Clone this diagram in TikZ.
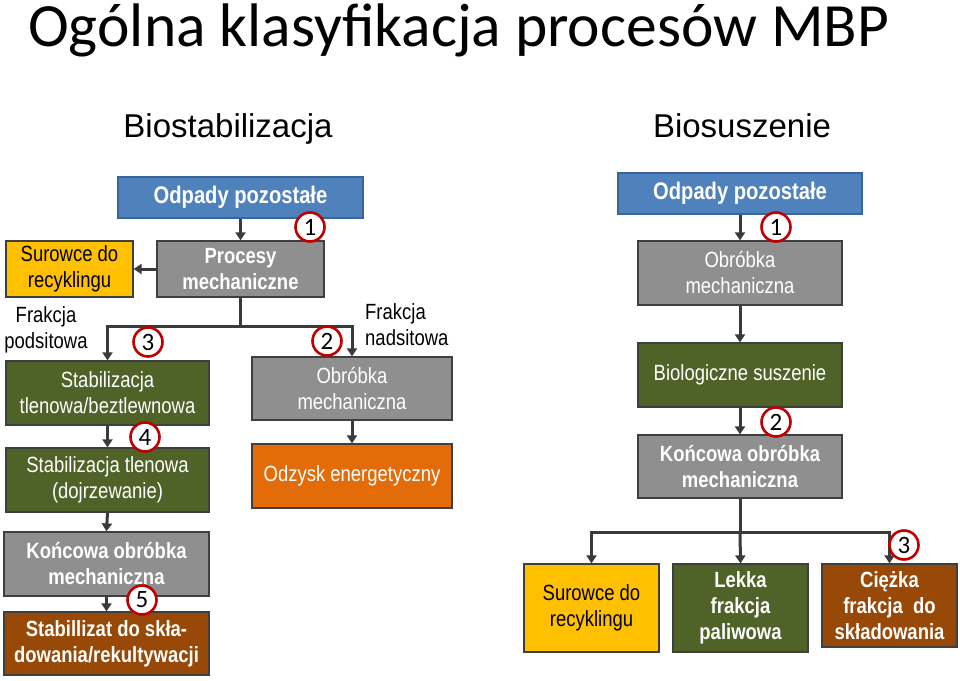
\documentclass[tikz,border=0pt]{standalone}
\usepackage{fontspec}
\setmainfont{Liberation Sans}
\newfontfamily\nar[FakeStretch=0.84]{Liberation Sans}
\newfontfamily\calfont{Carlito}
\usetikzlibrary{arrows.meta}
\definecolor{cblue}{HTML}{4F81BD}
\definecolor{cblueb}{HTML}{3A659A}
\definecolor{cgray}{HTML}{8F8F8F}
\definecolor{cgreen}{HTML}{4F6228}
\definecolor{corange}{HTML}{E36C09}
\definecolor{cbrown}{HTML}{984807}
\definecolor{cyellow}{HTML}{FFC000}
\definecolor{cborder}{HTML}{3F3F3F}
\definecolor{cline}{HTML}{3A3A3A}
\definecolor{cred}{HTML}{C00000}
\begin{document}
\begin{tikzpicture}[x=1pt,y=-1pt,
  box/.style={draw=cborder, line width=1.2pt, inner sep=2pt, align=center, text=white,
    font=\nar\fontsize{22}{26}\selectfont},
  bbox/.style={box, font=\nar\bfseries\fontsize{22}{26}\selectfont},
  sz/.style 2 args={minimum width=#1pt, minimum height=#2pt},
  gray/.style={fill=cgray},
  green/.style={fill=cgreen},
  orangebox/.style={fill=corange},
  brown/.style={fill=cbrown},
  yellow/.style={fill=cyellow, text=black},
  bluebox/.style={bbox, fill=cblue, draw=cblueb, font=\nar\bfseries\fontsize{24}{28}\selectfont},
  link/.style={draw=cline, line width=3pt},
  arr/.style={link, -{Triangle[width=10pt,length=8pt]}},
  num/.style={circle, draw=cred, line width=2.6pt, fill=white, minimum size=29pt, inner sep=0pt,
    font=\calfont\fontsize{25}{25}\selectfont},
  lbl/.style={font=\nar\fontsize{22}{26}\selectfont, inner sep=0pt}
]
\useasboundingbox (0,0) rectangle (960,680);

% titles
\node[anchor=base west, inner sep=0pt, font=\calfont\fontsize{61.5}{70}\selectfont] (title) at (28,46) {Ogólna klasyfikacja procesów MBP};
\node[anchor=base, inner sep=0pt, font=\fontsize{33}{38}\selectfont] (hL) at (228,137) {Biostabilizacja};
\node[anchor=base, inner sep=0pt, font=\fontsize{33}{38}\selectfont] (hR) at (742,137) {Biosuszenie};

% left column boxes
\node[bluebox, sz={245}{41}] (odL) at (240.5,197.5) {Odpady pozostałe};
\node[bbox, gray, sz={167}{56}] (proc) at (240.5,269) {Procesy\\mechaniczne};
\node[box, yellow, sz={127}{56}] (surL) at (69.5,269) {Surowce do\\recyklingu};
\node[box, green, sz={203}{64}] (stab1) at (107.5,393) {Stabilizacja\\tlenowa/beztlewnowa};
\node[box, gray, sz={200}{63}] (obrL) at (352,388.5) {Obróbka\\mechaniczna};
\node[box, green, sz={203}{64}] (stab2) at (107.5,480) {Stabilizacja tlenowa\\(dojrzewanie)};
\node[box, orangebox, sz={200}{64}] (odz) at (352,476) {Odzysk energetyczny};
\node[bbox, gray, sz={205}{64}] (konL) at (106.5,564) {Końcowa obróbka\\mechaniczna};
\node[bbox, brown, sz={205}{63}] (stabz) at (106.5,643.5) {Stabillizat do skła-\\dowania/rekultywacji};

\node[lbl, align=center] (fpod) at (46,330) {Frakcja\\podsitowa};
\node[lbl, align=left, anchor=west] (fnad) at (365,325) {Frakcja\\nadsitowa};

% right column boxes
\node[bluebox, sz={244}{41}] (odR) at (740,193.5) {Odpady pozostałe};
\node[box, gray, sz={204}{64}] (obrR) at (740,273) {Obróbka\\mechaniczna};
\node[box, green, sz={204}{64}] (bio) at (740,375) {Biologiczne suszenie};
\node[bbox, gray, sz={204}{63}] (konR) at (740,466.5) {Końcowa obróbka\\mechaniczna};
\node[box, yellow, sz={135}{88}] (surR) at (591.5,608) {Surowce do\\recyklingu};
\node[bbox, green, sz={135}{88}] (lek) at (740.5,608) {Lekka\\frakcja\\paliwowa};
\node[bbox, brown, sz={135}{83}] (cie) at (889.5,605.5) {Ciężka\\frakcja\ \ do\\składowania};

% connectors left
\coordinate (brL) at (240.5,326);
\coordinate (brR) at (740,532);
\draw[arr] (odL.south) -- (proc.north);
\draw[arr] (proc.west) -- (surL.east);
\draw[link] (proc.south) -- (brL);
\draw[arr] (brL) -| (stab1.north);
\draw[arr] (brL) -| (obrL.north);
\draw[arr] (stab1.south) -- (stab2.north);
\draw[arr] (obrL.south) -- (odz.north);
\draw[arr] (stab2.south) -- (konL.north);
\draw[arr] (konL.south) -- (stabz.north);

% connectors right
\draw[arr] (odR.south) -- (obrR.north);
\draw[arr] (obrR.south) -- (bio.north);
\draw[arr] (bio.south) -- (konR.north);
\draw[link] (konR.south) -- (brR);
\draw[arr] (brR) -| (surR.north);
\draw[arr] (brR) -- (lek.north);
\draw[arr] (brR) -| (cie.north);

% numbered circles
\node[num] (c1L) at (310,227) {1};
\node[num] (c2L) at (327,341) {2};
\node[num] (c3L) at (148,342) {3};
\node[num] (c4L) at (145,437) {4};
\node[num] (c5L) at (142,600) {5};
\node[num] (c1R) at (776,227) {1};
\node[num] (c2R) at (776,422) {2};
\node[num] (c3R) at (904,545) {3};
\end{tikzpicture}
\end{document}
